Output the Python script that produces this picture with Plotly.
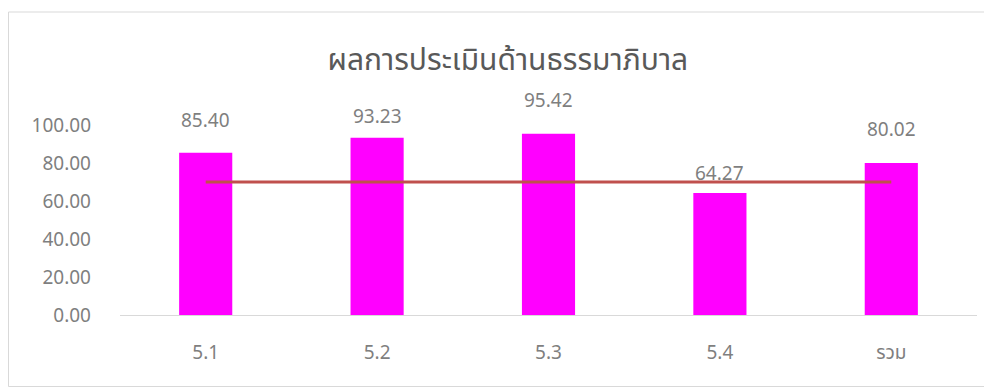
import plotly.graph_objects as go

categories = ["5.1", "5.2", "5.3", "5.4", "รวม"]
scores = [85.40, 93.23, 95.42, 64.27, 80.02]
target = [70.0, 70.0, 70.0, 70.0, 70.0]
label_lift = [33, 22, 34, 20, 34]  # manual label offsets as in the source chart

font_family = "'Noto Sans', 'Noto Sans Thai', 'DejaVu Sans', sans-serif"
grey = "#7f7f7f"

fig = go.Figure()
fig.add_trace(go.Bar(
    x=categories, y=scores,
    marker=dict(color="#FF00FF", line=dict(width=0)),
    width=0.31,
))
fig.add_trace(go.Scatter(
    x=categories, y=target, mode="lines",
    line=dict(color="#C0504D", width=3),
))

for i, (val, lift) in enumerate(zip(scores, label_lift)):
    fig.add_annotation(
        x=i, y=val, text=f"{val:.2f}", showarrow=False,
        yanchor="middle", yshift=lift,
        font=dict(size=19, color=grey, family=font_family),
    )

# chart frame (page body adds an 8px offset, so coordinates are relative to it)
fig.add_shape(
    type="rect", xref="paper", yref="paper",
    x0=(0.5 - 112) / 857, x1=(983.5 - 112) / 857,
    y0=(307 - 378.5) / 190, y1=(307 - 4) / 190,
    line=dict(color="#D9D9D9", width=1), fillcolor="rgba(0,0,0,0)", layer="below",
)

fig.update_layout(
    width=984, height=379,
    margin=dict(l=112, r=15, t=117, b=72),
    paper_bgcolor="white", plot_bgcolor="white",
    showlegend=False,
    title=dict(
        text="ผลการประเมินด้านธรรมาภิบาล",
        x=0.508, xanchor="center", y=0.863, yanchor="middle",
        font=dict(size=30, color="#595959", family=font_family),
    ),
    font=dict(family=font_family, color=grey, size=19),
    xaxis=dict(
        type="category",
        showline=True, linecolor="#D9D9D9", linewidth=1,
        ticks="", tickfont=dict(size=19, color=grey), ticklabelstandoff=20,
    ),
    yaxis=dict(
        range=[0, 100], dtick=20, tickformat=".2f",
        showgrid=False, zeroline=False, showline=False,
        tickfont=dict(size=19, color=grey), ticklabelstandoff=28,
    ),
)

fig.write_html("out.html")
